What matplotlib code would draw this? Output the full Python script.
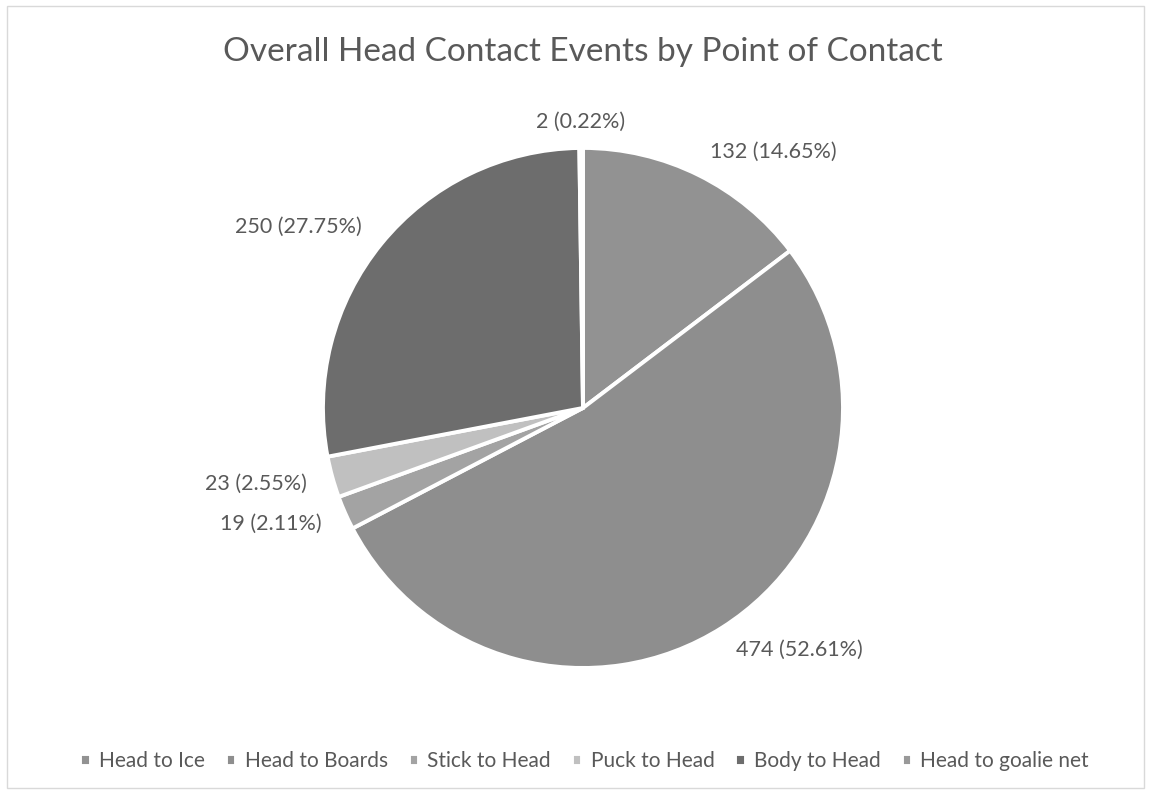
import matplotlib.pyplot as plt
import numpy as np
from matplotlib.patches import Rectangle

# data
categories = ['Head to Ice', 'Head to Boards', 'Stick to Head', 'Puck to Head',
              'Body to Head', 'Head to goalie net']
counts = [132, 474, 19, 23, 250, 2]
percents = [14.65, 52.61, 2.11, 2.55, 27.75, 0.22]
colors = ['#929292', '#8e8e8e', '#a3a3a3', '#c0c0c0', '#6d6d6d', '#999999']

plt.rcParams['font.family'] = ['Lato', 'DejaVu Sans']
txt = '#595959'

fig = plt.figure(figsize=(11.51, 7.94), dpi=100)
# chart area border
fig.patches.append(Rectangle((0.006, 0.008), 0.988, 0.984, transform=fig.transFigure,
                             fill=False, edgecolor='#d9d9d9', linewidth=1))

ax = fig.add_axes([0.2806, 0.1587, 0.4518, 0.655])
labels = ['%d (%.2f%%)' % (c, p) for c, p in zip(counts, percents)]
wedges, texts = ax.pie(counts, labels=labels, colors=colors, startangle=90,
                       counterclock=False, labeldistance=1.1,
                       wedgeprops=dict(edgecolor='white', linewidth=2.8),
                       textprops=dict(color=txt, fontsize=15.5))
for t in texts:
    x, y = t.get_position()
    if abs(x) < 0.1:
        t.set_ha('center')
ax.set_xlim(-1, 1)
ax.set_ylim(-1, 1)
ax.set_aspect('equal')

fig.text(0.506, 0.934, 'Overall Head Contact Events by Point of Contact',
         ha='center', va='center', fontsize=24, color=txt)

leg = fig.legend(wedges, categories, loc='center', bbox_to_anchor=(0.508, 0.041),
                 ncol=6, frameon=False, fontsize=15, handlelength=0.5,
                 handleheight=0.5, handletextpad=0.4, columnspacing=1.0)
for t in leg.get_texts():
    t.set_color(txt)

plt.savefig('out.png', dpi=100)
